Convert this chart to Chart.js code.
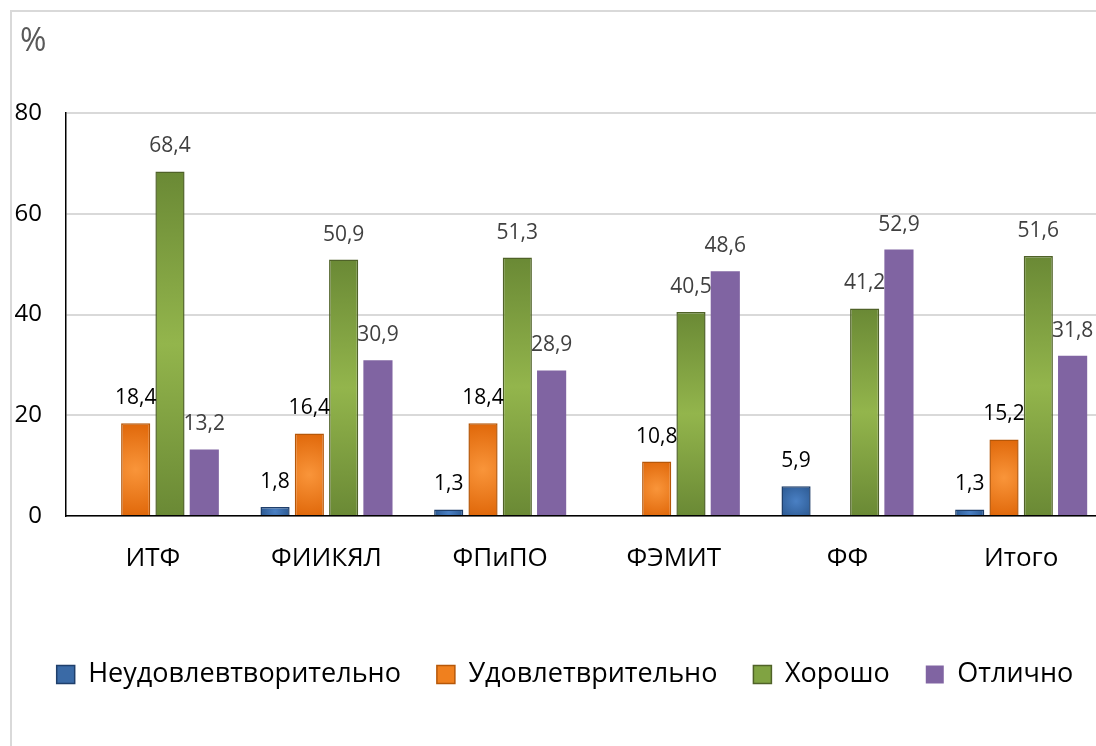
<!DOCTYPE html>
<html>
<head>
<meta charset="utf-8">
<script src="https://cdn.jsdelivr.net/npm/chart.js@4"></script>
<style>
  html, body { margin: 0; padding: 0; background: #fff; }
  #wrap { position: relative; width: 1096px; height: 746px; overflow: hidden; }
  #frame { position: absolute; left: 10px; top: 10px; width: 1200px; height: 800px;
           border: 2px solid #d9d9d9; pointer-events: none; }
  canvas { position: absolute; left: 0; top: 0; }
</style>
</head>
<body>
<div id="wrap">
  <div id="frame"></div>
  <!-- plot area runs a little past the right edge, as in the original -->
  <canvas id="chart" width="1108" height="746"></canvas>
</div>
<script>
// chart data
const categories = ['ИТФ', 'ФИИКЯЛ', 'ФПиПО', 'ФЭМИТ', 'ФФ', 'Итого'];
const seriesNames = ['Неудовлевтворительно', 'Удовлетврительно', 'Хорошо', 'Отлично'];
const unsatisfactory = [null, 1.8, 1.3, null, 5.9, 1.3];
const satisfactory = [18.4, 16.4, 18.4, 10.8, null, 15.2];
const good = [68.4, 50.9, 51.3, 40.5, 41.2, 51.6];
const excellent = [13.2, 30.9, 28.9, 48.6, 52.9, 31.8];
const yTicks = [0, 20, 40, 60, 80];
const unitLabel = '%';

const FONT = "'Open Sans', 'Noto Sans', sans-serif";
const CAT_PCT = 0.79;
const BAR_PCT = 0.85;

// colours per series: flat (legend), dark edge, light centre, border, label
const styles = [
    { flat: '#3a6aa6', dark: '#2b5890', light: '#4a80c4', border: '#1f3f6b', label: '#000000' },
    { flat: '#f0801e', dark: '#df6608', light: '#f9953a', border: '#b65708', label: '#000000' },
    { flat: '#80a342', dark: '#6a8935', light: '#93b54c', border: '#4f6228', label: '#404040' },
    { flat: '#8064a2', dark: '#8064a2', light: '#8064a2', border: '#8064a2', label: '#404040' },
];

// work out where a bar sits so the gradient can follow it
function barGeometry(ctx) {
    const chart = ctx.chart;
    const xs = chart.scales.x, ys = chart.scales.y;
    const n = chart.data.labels.length;
    const catWidth = (chart.chartArea.right - chart.chartArea.left) / n;
    const group = catWidth * CAT_PCT;
    const slot = group / chart.data.datasets.length;
    const cx = xs.getPixelForValue(ctx.dataIndex) - group / 2 + slot * (ctx.datasetIndex + 0.5);
    return {
        cx: cx,
        w: slot * BAR_PCT,
        top: ys.getPixelForValue(ctx.raw),
        base: ys.getPixelForValue(0),
    };
}

function barFill(seriesIndex, kind) {
    const s = styles[seriesIndex];
    return ctx => {
        const chart = ctx.chart;
        if (!chart.chartArea || ctx.type !== 'data' || ctx.raw == null) return s.flat;
        const g = barGeometry(ctx);
        const c = chart.ctx;
        if (kind === 'radial') {
            const cy = (g.top + g.base) / 2;
            const r = Math.max(Math.hypot(g.w / 2, (g.base - g.top) / 2), 1);
            const grad = c.createRadialGradient(g.cx, cy, 0, g.cx, cy, r);
            grad.addColorStop(0, s.light);
            grad.addColorStop(1, s.dark);
            return grad;
        }
        if (kind === 'vertical') {
            const grad = c.createLinearGradient(0, g.top, 0, g.base);
            grad.addColorStop(0, s.dark);
            grad.addColorStop(0.5, s.light);
            grad.addColorStop(1, s.dark);
            return grad;
        }
        return s.flat;
    };
}

const fills = ['radial', 'radial', 'vertical', 'flat'];
const seriesData = [unsatisfactory, satisfactory, good, excellent];

const datasets = seriesData.map((values, i) => ({
    label: seriesNames[i],
    data: values,
    backgroundColor: barFill(i, fills[i]),
    borderColor: styles[i].border,
    borderWidth: i === 3 ? 0 : 1.5,
    barPercentage: BAR_PCT,
    categoryPercentage: CAT_PCT,
}));

// value labels above bars, Russian decimal comma; plus the "%" unit at top left
const valueLabels = {
    id: 'valueLabels',
    afterLayout(chart) {
        // legend row sits slightly right of the canvas centre in the original
        chart.legend.left += 7;
        chart.legend.right += 7;
    },
    afterDatasetsDraw(chart) {
        const c = chart.ctx;
        c.save();
        c.font = '21px ' + FONT;
        c.textAlign = 'center';
        c.textBaseline = 'middle';
        chart.data.datasets.forEach((ds, di) => {
            const meta = chart.getDatasetMeta(di);
            meta.data.forEach((el, i) => {
                const v = ds.data[i];
                if (v == null) return;
                c.fillStyle = styles[di].label;
                c.fillText(v.toFixed(1).replace('.', ','), el.x, el.y - 25);
            });
        });
        c.fillStyle = '#595959';
        c.font = '32px ' + FONT;
        c.textAlign = 'left';
        c.fillText(unitLabel, 20, 42);
        c.restore();
    }
};

new Chart(document.getElementById('chart'), {
    type: 'bar',
    data: { labels: categories, datasets: datasets },
    options: {
        responsive: false,
        animation: false,
        layout: { padding: { left: 8, top: 113, right: 0, bottom: 48 } },
        plugins: {
            legend: {
                position: 'bottom',
                labels: {
                    boxWidth: 18,
                    boxHeight: 18,
                    padding: 36,
                    color: '#000',
                    font: { family: FONT, size: 27 },
                    generateLabels: chart => seriesNames.map((name, i) => ({
                        text: name,
                        fillStyle: styles[i].flat,
                        strokeStyle: styles[i].border,
                        lineWidth: i === 3 ? 0 : 1.5,
                        datasetIndex: i,
                    })),
                },
            },
            tooltip: { enabled: false },
        },
        scales: {
            x: {
                grid: { display: false },
                border: { display: true, color: '#000', width: 1.5 },
                ticks: { color: '#000', padding: 19, font: { family: FONT, size: 26 } },
                afterFit: scale => { scale.height = 109; },
            },
            y: {
                min: 0,
                max: 80,
                afterBuildTicks: scale => { scale.ticks = yTicks.map(v => ({ value: v })); },
                grid: { color: '#d9d9d9', lineWidth: 2, drawTicks: false },
                border: { display: true, color: '#000', width: 1.5 },
                ticks: { color: '#000', padding: 24, font: { family: FONT, size: 24 } },
                afterFit: scale => { scale.width = 58; },
            },
        },
    },
    plugins: [valueLabels],
});
</script>
</body>
</html>
